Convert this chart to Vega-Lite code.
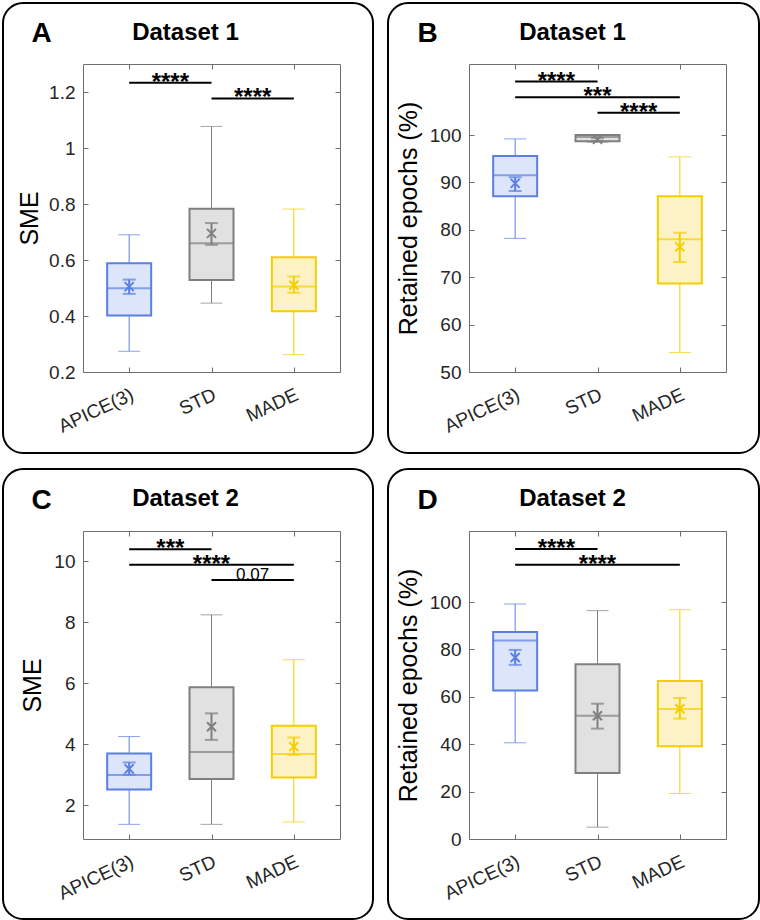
{
  "$schema": "https://vega.github.io/schema/vega-lite/v6.json",
  "padding": {"left": 1, "top": 1, "right": 0, "bottom": 0},
  "background": "white",
  "config": {
    "font": "Liberation Sans",
    "view": {"stroke": "#6e6e6e", "strokeWidth": 1},
    "legend": {"disable": true},
    "axis": {"labelFont": "Liberation Sans", "titleFont": "Liberation Sans", "labelFontSize": 19, "labelColor": "#262626", "titleFontSize": 25, "titleFontWeight": "normal", "titleColor": "#000000", "grid": false, "domain": false, "tickColor": "#6e6e6e", "tickSize": -5, "tickWidth": 1}
  },
  "datasets": {
    "boxes": [
      {"panel": "A", "group": "APICE(3)", "pos": 1, "lo": 0.274, "q1": 0.402, "med": 0.499, "q3": 0.588, "hi": 0.690, "mean": 0.505, "elo": 0.479, "ehi": 0.530},
      {"panel": "A", "group": "STD", "pos": 2, "lo": 0.446, "q1": 0.529, "med": 0.660, "q3": 0.783, "hi": 1.077, "mean": 0.695, "elo": 0.654, "ehi": 0.732},
      {"panel": "A", "group": "MADE", "pos": 3, "lo": 0.262, "q1": 0.417, "med": 0.505, "q3": 0.610, "hi": 0.782, "mean": 0.510, "elo": 0.483, "ehi": 0.541},
      {"panel": "B", "group": "APICE(3)", "pos": 1, "lo": 78.2, "q1": 87.1, "med": 91.5, "q3": 95.6, "hi": 99.2, "mean": 89.8, "elo": 88.2, "ehi": 91.1},
      {"panel": "B", "group": "STD", "pos": 2, "lo": 98.5, "q1": 98.7, "med": 99.6, "q3": 100.0, "hi": 100.0, "mean": 99.1, "elo": 98.8, "ehi": 99.4},
      {"panel": "B", "group": "MADE", "pos": 3, "lo": 54.1, "q1": 68.7, "med": 78.0, "q3": 87.1, "hi": 95.4, "mean": 76.4, "elo": 73.2, "ehi": 79.4},
      {"panel": "C", "group": "APICE(3)", "pos": 1, "lo": 1.38, "q1": 2.52, "med": 3.0, "q3": 3.70, "hi": 4.26, "mean": 3.2, "elo": 3.01, "ehi": 3.41},
      {"panel": "C", "group": "STD", "pos": 2, "lo": 1.38, "q1": 2.87, "med": 3.75, "q3": 5.88, "hi": 8.25, "mean": 4.58, "elo": 4.15, "ehi": 5.02},
      {"panel": "C", "group": "MADE", "pos": 3, "lo": 1.46, "q1": 2.92, "med": 3.69, "q3": 4.61, "hi": 6.78, "mean": 3.93, "elo": 3.66, "ehi": 4.23},
      {"panel": "D", "group": "APICE(3)", "pos": 1, "lo": 40.6, "q1": 62.7, "med": 83.8, "q3": 87.4, "hi": 99.2, "mean": 76.6, "elo": 73.5, "ehi": 79.8},
      {"panel": "D", "group": "STD", "pos": 2, "lo": 5.0, "q1": 27.9, "med": 52.0, "q3": 73.8, "hi": 96.4, "mean": 52.0, "elo": 46.6, "ehi": 57.1},
      {"panel": "D", "group": "MADE", "pos": 3, "lo": 19.2, "q1": 39.2, "med": 54.9, "q3": 66.7, "hi": 96.8, "mean": 55.0, "elo": 50.8, "ehi": 59.5}
    ],
    "sig": [
      {"panel": "A", "from": 1, "to": 2, "mid": 1.5, "y": 1.233, "label": "****"},
      {"panel": "A", "from": 2, "to": 3, "mid": 2.5, "y": 1.177, "label": "****"},
      {"panel": "B", "from": 1, "to": 2, "mid": 1.5, "y": 111.3, "label": "****"},
      {"panel": "B", "from": 1, "to": 3, "mid": 2, "y": 108.0, "label": "***"},
      {"panel": "B", "from": 2, "to": 3, "mid": 2.5, "y": 104.7, "label": "****"},
      {"panel": "C", "from": 1, "to": 2, "mid": 1.5, "y": 10.40, "label": "***"},
      {"panel": "C", "from": 1, "to": 3, "mid": 2, "y": 9.89, "label": "****"},
      {"panel": "C", "from": 2, "to": 3, "mid": 2.5, "y": 9.39, "label": "0.07"},
      {"panel": "D", "from": 1, "to": 2, "mid": 1.5, "y": 122.4, "label": "****"},
      {"panel": "D", "from": 1, "to": 3, "mid": 2, "y": 115.8, "label": "****"}
    ]
  },
  "columns": 2,
  "spacing": {"row": 159, "column": 129},
  "bounds": "flush",
  "concat": [
    {
      "width": 257, "height": 308,
      "resolve": {"axis": {"x": "independent", "y": "independent"}},
      "layer": [
        {"data": {"values": [{}]}, "mark": {"type": "rect", "filled": false, "color": "#000000", "strokeWidth": 2, "cornerRadius": 20, "clip": false},
         "encoding": {"x": {"value": -80}, "x2": {"value": 290}, "y": {"value": -61}, "y2": {"value": 389}}},
        {"data": {"name": "boxes"}, "transform": [{"filter": "datum.panel == 'A'"}],
         "mark": {"type": "rule", "strokeWidth": 1},
         "encoding": {
           "x": {"field": "pos", "type": "quantitative", "scale": {"domain": [0.5, 3.5], "nice": false, "zero": false},
                 "axis": {"orient": "bottom", "values": [1, 2, 3], "labelExpr": "datum.value == 1 ? 'APICE(3)' : datum.value == 2 ? 'STD' : 'MADE'", "labelAngle": -25, "labelAlign": "right", "labelBaseline": "top", "labelPadding": 18, "labelOffset": -1, "title": null}},
           "y": {"field": "lo", "type": "quantitative", "scale": {"domain": [0.2, 1.3], "nice": false, "zero": false},
                 "axis": {"orient": "left", "values": [0.2, 0.4, 0.6, 0.8, 1, 1.2], "format": "~f", "title": "SME", "labelPadding": 13, "titlePadding": 6}},
           "y2": {"field": "hi"},
           "color": {"field": "group", "type": "nominal", "scale": {"domain": ["APICE(3)", "STD", "MADE"], "range": ["#5b7fe3", "#7f7f7f", "#f3cf00"]}}
         }},
        {"data": {"name": "boxes"}, "transform": [{"filter": "datum.panel == 'A'"}, {"fold": ["lo", "hi"]}],
         "mark": {"type": "tick", "orient": "horizontal", "size": 22, "thickness": 1},
         "encoding": {"x": {"field": "pos", "type": "quantitative", "axis": null}, "y": {"field": "value", "type": "quantitative", "axis": null}, "color": {"field": "group", "type": "nominal"}}},
        {"data": {"name": "boxes"}, "transform": [{"filter": "datum.panel == 'A'"}],
         "mark": {"type": "bar", "size": 44, "strokeWidth": 2},
         "encoding": {"x": {"field": "pos", "type": "quantitative", "axis": null}, "y": {"field": "q1", "type": "quantitative", "axis": null}, "y2": {"field": "q3"},
           "fill": {"field": "group", "type": "nominal", "scale": {"domain": ["APICE(3)", "STD", "MADE"], "range": ["#dde5fa", "#e1e1e1", "#fdf2c6"]}},
           "stroke": {"field": "group", "type": "nominal", "scale": {"domain": ["APICE(3)", "STD", "MADE"], "range": ["#5b7fe3", "#7f7f7f", "#f3cf00"]}}}},
        {"data": {"name": "boxes"}, "transform": [{"filter": "datum.panel == 'A'"}],
         "mark": {"type": "tick", "orient": "horizontal", "size": 44, "thickness": 2},
         "encoding": {"x": {"field": "pos", "type": "quantitative", "axis": null}, "y": {"field": "med", "type": "quantitative", "axis": null}, "color": {"field": "group", "type": "nominal"}}},
        {"data": {"name": "boxes"}, "transform": [{"filter": "datum.panel == 'A'"}],
         "mark": {"type": "rule", "strokeWidth": 2},
         "encoding": {"x": {"field": "pos", "type": "quantitative", "axis": null}, "y": {"field": "elo", "type": "quantitative", "axis": null}, "y2": {"field": "ehi"}, "color": {"field": "group", "type": "nominal"}}},
        {"data": {"name": "boxes"}, "transform": [{"filter": "datum.panel == 'A'"}, {"fold": ["elo", "ehi"]}],
         "mark": {"type": "tick", "orient": "horizontal", "size": 13, "thickness": 2},
         "encoding": {"x": {"field": "pos", "type": "quantitative", "axis": null}, "y": {"field": "value", "type": "quantitative", "axis": null}, "color": {"field": "group", "type": "nominal"}}},
        {"data": {"name": "boxes"}, "transform": [{"filter": "datum.panel == 'A'"}],
         "mark": {"type": "point", "shape": "M-1,-1L1,1M-1,1L1,-1", "size": 81, "filled": false, "strokeWidth": 2, "opacity": 1},
         "encoding": {"x": {"field": "pos", "type": "quantitative", "axis": null}, "y": {"field": "mean", "type": "quantitative", "axis": null}, "color": {"field": "group", "type": "nominal"}}},
        {"data": {"name": "sig"}, "transform": [{"filter": "datum.panel == 'A'"}],
         "mark": {"type": "rule", "strokeWidth": 2, "color": "#000000"},
         "encoding": {
           "x": {"field": "from", "type": "quantitative", "axis": {"orient": "top", "values": [1, 2, 3], "labels": false, "title": "Dataset 1", "titleX": 102, "titleY": -25, "titleAlign": "center", "titleBaseline": "alphabetic", "titleAngle": 0, "titleFontSize": 24, "titleFontWeight": "bold"}},
           "x2": {"field": "to"},
           "y": {"field": "y", "type": "quantitative", "axis": {"orient": "right", "values": [0.2, 0.4, 0.6, 0.8, 1, 1.2], "labels": false, "title": "A", "titleX": -299, "titleY": -23, "titleAlign": "center", "titleBaseline": "alphabetic", "titleAngle": 0, "titleFontSize": 28, "titleFontWeight": "bold"}}
         }},
        {"data": {"name": "sig"}, "transform": [{"filter": "datum.panel == 'A' && datum.label != '0.07'"}],
         "mark": {"type": "text", "fontSize": 24, "fontWeight": "bold", "dy": 7, "baseline": "alphabetic", "align": "center", "color": "#000000"},
         "encoding": {"x": {"field": "mid", "type": "quantitative", "axis": null}, "y": {"field": "y", "type": "quantitative", "axis": null}, "text": {"field": "label"}}}
      ]
    },
    {
      "width": 257, "height": 308,
      "resolve": {"axis": {"x": "independent", "y": "independent"}},
      "layer": [
        {"data": {"values": [{}]}, "mark": {"type": "rect", "filled": false, "color": "#000000", "strokeWidth": 2, "cornerRadius": 20, "clip": false},
         "encoding": {"x": {"value": -81}, "x2": {"value": 290}, "y": {"value": -61}, "y2": {"value": 389}}},
        {"data": {"name": "boxes"}, "transform": [{"filter": "datum.panel == 'B'"}],
         "mark": {"type": "rule", "strokeWidth": 1},
         "encoding": {
           "x": {"field": "pos", "type": "quantitative", "scale": {"domain": [0.5, 3.5], "nice": false, "zero": false},
                 "axis": {"orient": "bottom", "values": [1, 2, 3], "labelExpr": "datum.value == 1 ? 'APICE(3)' : datum.value == 2 ? 'STD' : 'MADE'", "labelAngle": -25, "labelAlign": "right", "labelBaseline": "top", "labelPadding": 18, "labelOffset": -1, "title": null}},
           "y": {"field": "lo", "type": "quantitative", "scale": {"domain": [50, 115], "nice": false, "zero": false},
                 "axis": {"orient": "left", "values": [50, 60, 70, 80, 90, 100], "format": "~f", "title": "Retained epochs (%)", "labelPadding": 13, "titlePadding": 8}},
           "y2": {"field": "hi"},
           "color": {"field": "group", "type": "nominal", "scale": {"domain": ["APICE(3)", "STD", "MADE"], "range": ["#5b7fe3", "#7f7f7f", "#f3cf00"]}}
         }},
        {"data": {"name": "boxes"}, "transform": [{"filter": "datum.panel == 'B'"}, {"fold": ["lo", "hi"]}],
         "mark": {"type": "tick", "orient": "horizontal", "size": 22, "thickness": 1},
         "encoding": {"x": {"field": "pos", "type": "quantitative", "axis": null}, "y": {"field": "value", "type": "quantitative", "axis": null}, "color": {"field": "group", "type": "nominal"}}},
        {"data": {"name": "boxes"}, "transform": [{"filter": "datum.panel == 'B'"}],
         "mark": {"type": "bar", "size": 44, "strokeWidth": 2},
         "encoding": {"x": {"field": "pos", "type": "quantitative", "axis": null}, "y": {"field": "q1", "type": "quantitative", "axis": null}, "y2": {"field": "q3"},
           "fill": {"field": "group", "type": "nominal", "scale": {"domain": ["APICE(3)", "STD", "MADE"], "range": ["#dde5fa", "#e1e1e1", "#fdf2c6"]}},
           "stroke": {"field": "group", "type": "nominal", "scale": {"domain": ["APICE(3)", "STD", "MADE"], "range": ["#5b7fe3", "#7f7f7f", "#f3cf00"]}}}},
        {"data": {"name": "boxes"}, "transform": [{"filter": "datum.panel == 'B'"}],
         "mark": {"type": "tick", "orient": "horizontal", "size": 44, "thickness": 2},
         "encoding": {"x": {"field": "pos", "type": "quantitative", "axis": null}, "y": {"field": "med", "type": "quantitative", "axis": null}, "color": {"field": "group", "type": "nominal"}}},
        {"data": {"name": "boxes"}, "transform": [{"filter": "datum.panel == 'B'"}],
         "mark": {"type": "rule", "strokeWidth": 2},
         "encoding": {"x": {"field": "pos", "type": "quantitative", "axis": null}, "y": {"field": "elo", "type": "quantitative", "axis": null}, "y2": {"field": "ehi"}, "color": {"field": "group", "type": "nominal"}}},
        {"data": {"name": "boxes"}, "transform": [{"filter": "datum.panel == 'B'"}, {"fold": ["elo", "ehi"]}],
         "mark": {"type": "tick", "orient": "horizontal", "size": 13, "thickness": 2},
         "encoding": {"x": {"field": "pos", "type": "quantitative", "axis": null}, "y": {"field": "value", "type": "quantitative", "axis": null}, "color": {"field": "group", "type": "nominal"}}},
        {"data": {"name": "boxes"}, "transform": [{"filter": "datum.panel == 'B'"}],
         "mark": {"type": "point", "shape": "M-1,-1L1,1M-1,1L1,-1", "size": 81, "filled": false, "strokeWidth": 2, "opacity": 1},
         "encoding": {"x": {"field": "pos", "type": "quantitative", "axis": null}, "y": {"field": "mean", "type": "quantitative", "axis": null}, "color": {"field": "group", "type": "nominal"}}},
        {"data": {"name": "sig"}, "transform": [{"filter": "datum.panel == 'B'"}],
         "mark": {"type": "rule", "strokeWidth": 2, "color": "#000000"},
         "encoding": {
           "x": {"field": "from", "type": "quantitative", "axis": {"orient": "top", "values": [1, 2, 3], "labels": false, "title": "Dataset 1", "titleX": 103, "titleY": -25, "titleAlign": "center", "titleBaseline": "alphabetic", "titleAngle": 0, "titleFontSize": 24, "titleFontWeight": "bold"}},
           "x2": {"field": "to"},
           "y": {"field": "y", "type": "quantitative", "axis": {"orient": "right", "values": [50, 60, 70, 80, 90, 100], "labels": false, "title": "B", "titleX": -299, "titleY": -23, "titleAlign": "center", "titleBaseline": "alphabetic", "titleAngle": 0, "titleFontSize": 28, "titleFontWeight": "bold"}}
         }},
        {"data": {"name": "sig"}, "transform": [{"filter": "datum.panel == 'B' && datum.label != '0.07'"}],
         "mark": {"type": "text", "fontSize": 24, "fontWeight": "bold", "dy": 7, "baseline": "alphabetic", "align": "center", "color": "#000000"},
         "encoding": {"x": {"field": "mid", "type": "quantitative", "axis": null}, "y": {"field": "y", "type": "quantitative", "axis": null}, "text": {"field": "label"}}}
      ]
    },
    {
      "width": 257, "height": 308,
      "resolve": {"axis": {"x": "independent", "y": "independent"}},
      "layer": [
        {"data": {"values": [{}]}, "mark": {"type": "rect", "filled": false, "color": "#000000", "strokeWidth": 2, "cornerRadius": 20, "clip": false},
         "encoding": {"x": {"value": -80}, "x2": {"value": 290}, "y": {"value": -62}, "y2": {"value": 388}}},
        {"data": {"name": "boxes"}, "transform": [{"filter": "datum.panel == 'C'"}],
         "mark": {"type": "rule", "strokeWidth": 1},
         "encoding": {
           "x": {"field": "pos", "type": "quantitative", "scale": {"domain": [0.5, 3.5], "nice": false, "zero": false},
                 "axis": {"orient": "bottom", "values": [1, 2, 3], "labelExpr": "datum.value == 1 ? 'APICE(3)' : datum.value == 2 ? 'STD' : 'MADE'", "labelAngle": -25, "labelAlign": "right", "labelBaseline": "top", "labelPadding": 18, "labelOffset": -1, "title": null}},
           "y": {"field": "lo", "type": "quantitative", "scale": {"domain": [0.9, 11], "nice": false, "zero": false},
                 "axis": {"orient": "left", "values": [2, 4, 6, 8, 10], "format": "~f", "title": "SME", "labelPadding": 13, "titlePadding": 8}},
           "y2": {"field": "hi"},
           "color": {"field": "group", "type": "nominal", "scale": {"domain": ["APICE(3)", "STD", "MADE"], "range": ["#5b7fe3", "#7f7f7f", "#f3cf00"]}}
         }},
        {"data": {"name": "boxes"}, "transform": [{"filter": "datum.panel == 'C'"}, {"fold": ["lo", "hi"]}],
         "mark": {"type": "tick", "orient": "horizontal", "size": 22, "thickness": 1},
         "encoding": {"x": {"field": "pos", "type": "quantitative", "axis": null}, "y": {"field": "value", "type": "quantitative", "axis": null}, "color": {"field": "group", "type": "nominal"}}},
        {"data": {"name": "boxes"}, "transform": [{"filter": "datum.panel == 'C'"}],
         "mark": {"type": "bar", "size": 44, "strokeWidth": 2},
         "encoding": {"x": {"field": "pos", "type": "quantitative", "axis": null}, "y": {"field": "q1", "type": "quantitative", "axis": null}, "y2": {"field": "q3"},
           "fill": {"field": "group", "type": "nominal", "scale": {"domain": ["APICE(3)", "STD", "MADE"], "range": ["#dde5fa", "#e1e1e1", "#fdf2c6"]}},
           "stroke": {"field": "group", "type": "nominal", "scale": {"domain": ["APICE(3)", "STD", "MADE"], "range": ["#5b7fe3", "#7f7f7f", "#f3cf00"]}}}},
        {"data": {"name": "boxes"}, "transform": [{"filter": "datum.panel == 'C'"}],
         "mark": {"type": "tick", "orient": "horizontal", "size": 44, "thickness": 2},
         "encoding": {"x": {"field": "pos", "type": "quantitative", "axis": null}, "y": {"field": "med", "type": "quantitative", "axis": null}, "color": {"field": "group", "type": "nominal"}}},
        {"data": {"name": "boxes"}, "transform": [{"filter": "datum.panel == 'C'"}],
         "mark": {"type": "rule", "strokeWidth": 2},
         "encoding": {"x": {"field": "pos", "type": "quantitative", "axis": null}, "y": {"field": "elo", "type": "quantitative", "axis": null}, "y2": {"field": "ehi"}, "color": {"field": "group", "type": "nominal"}}},
        {"data": {"name": "boxes"}, "transform": [{"filter": "datum.panel == 'C'"}, {"fold": ["elo", "ehi"]}],
         "mark": {"type": "tick", "orient": "horizontal", "size": 13, "thickness": 2},
         "encoding": {"x": {"field": "pos", "type": "quantitative", "axis": null}, "y": {"field": "value", "type": "quantitative", "axis": null}, "color": {"field": "group", "type": "nominal"}}},
        {"data": {"name": "boxes"}, "transform": [{"filter": "datum.panel == 'C'"}],
         "mark": {"type": "point", "shape": "M-1,-1L1,1M-1,1L1,-1", "size": 81, "filled": false, "strokeWidth": 2, "opacity": 1},
         "encoding": {"x": {"field": "pos", "type": "quantitative", "axis": null}, "y": {"field": "mean", "type": "quantitative", "axis": null}, "color": {"field": "group", "type": "nominal"}}},
        {"data": {"name": "sig"}, "transform": [{"filter": "datum.panel == 'C'"}],
         "mark": {"type": "rule", "strokeWidth": 2, "color": "#000000"},
         "encoding": {
           "x": {"field": "from", "type": "quantitative", "axis": {"orient": "top", "values": [1, 2, 3], "labels": false, "title": "Dataset 2", "titleX": 102, "titleY": -26, "titleAlign": "center", "titleBaseline": "alphabetic", "titleAngle": 0, "titleFontSize": 24, "titleFontWeight": "bold"}},
           "x2": {"field": "to"},
           "y": {"field": "y", "type": "quantitative", "axis": {"orient": "right", "values": [2, 4, 6, 8, 10], "labels": false, "title": "C", "titleX": -299, "titleY": -23, "titleAlign": "center", "titleBaseline": "alphabetic", "titleAngle": 0, "titleFontSize": 28, "titleFontWeight": "bold"}}
         }},
        {"data": {"name": "sig"}, "transform": [{"filter": "datum.panel == 'C' && datum.label != '0.07'"}],
         "mark": {"type": "text", "fontSize": 24, "fontWeight": "bold", "dy": 7, "baseline": "alphabetic", "align": "center", "color": "#000000"},
         "encoding": {"x": {"field": "mid", "type": "quantitative", "axis": null}, "y": {"field": "y", "type": "quantitative", "axis": null}, "text": {"field": "label"}}},
        {"data": {"name": "sig"}, "transform": [{"filter": "datum.panel == 'C' && datum.label == '0.07'"}],
         "mark": {"type": "text", "fontSize": 17, "dy": 0, "baseline": "alphabetic", "align": "center", "color": "#000000"},
         "encoding": {"x": {"field": "mid", "type": "quantitative", "axis": null}, "y": {"field": "y", "type": "quantitative", "axis": null}, "text": {"field": "label"}}}
      ]
    },
    {
      "width": 257, "height": 308,
      "resolve": {"axis": {"x": "independent", "y": "independent"}},
      "layer": [
        {"data": {"values": [{}]}, "mark": {"type": "rect", "filled": false, "color": "#000000", "strokeWidth": 2, "cornerRadius": 20, "clip": false},
         "encoding": {"x": {"value": -81}, "x2": {"value": 290}, "y": {"value": -62}, "y2": {"value": 388}}},
        {"data": {"name": "boxes"}, "transform": [{"filter": "datum.panel == 'D'"}],
         "mark": {"type": "rule", "strokeWidth": 1},
         "encoding": {
           "x": {"field": "pos", "type": "quantitative", "scale": {"domain": [0.5, 3.5], "nice": false, "zero": false},
                 "axis": {"orient": "bottom", "values": [1, 2, 3], "labelExpr": "datum.value == 1 ? 'APICE(3)' : datum.value == 2 ? 'STD' : 'MADE'", "labelAngle": -25, "labelAlign": "right", "labelBaseline": "top", "labelPadding": 18, "labelOffset": -1, "title": null}},
           "y": {"field": "lo", "type": "quantitative", "scale": {"domain": [0, 130], "nice": false, "zero": false},
                 "axis": {"orient": "left", "values": [0, 20, 40, 60, 80, 100], "format": "~f", "title": "Retained epochs (%)", "labelPadding": 13, "titlePadding": 8}},
           "y2": {"field": "hi"},
           "color": {"field": "group", "type": "nominal", "scale": {"domain": ["APICE(3)", "STD", "MADE"], "range": ["#5b7fe3", "#7f7f7f", "#f3cf00"]}}
         }},
        {"data": {"name": "boxes"}, "transform": [{"filter": "datum.panel == 'D'"}, {"fold": ["lo", "hi"]}],
         "mark": {"type": "tick", "orient": "horizontal", "size": 22, "thickness": 1},
         "encoding": {"x": {"field": "pos", "type": "quantitative", "axis": null}, "y": {"field": "value", "type": "quantitative", "axis": null}, "color": {"field": "group", "type": "nominal"}}},
        {"data": {"name": "boxes"}, "transform": [{"filter": "datum.panel == 'D'"}],
         "mark": {"type": "bar", "size": 44, "strokeWidth": 2},
         "encoding": {"x": {"field": "pos", "type": "quantitative", "axis": null}, "y": {"field": "q1", "type": "quantitative", "axis": null}, "y2": {"field": "q3"},
           "fill": {"field": "group", "type": "nominal", "scale": {"domain": ["APICE(3)", "STD", "MADE"], "range": ["#dde5fa", "#e1e1e1", "#fdf2c6"]}},
           "stroke": {"field": "group", "type": "nominal", "scale": {"domain": ["APICE(3)", "STD", "MADE"], "range": ["#5b7fe3", "#7f7f7f", "#f3cf00"]}}}},
        {"data": {"name": "boxes"}, "transform": [{"filter": "datum.panel == 'D'"}],
         "mark": {"type": "tick", "orient": "horizontal", "size": 44, "thickness": 2},
         "encoding": {"x": {"field": "pos", "type": "quantitative", "axis": null}, "y": {"field": "med", "type": "quantitative", "axis": null}, "color": {"field": "group", "type": "nominal"}}},
        {"data": {"name": "boxes"}, "transform": [{"filter": "datum.panel == 'D'"}],
         "mark": {"type": "rule", "strokeWidth": 2},
         "encoding": {"x": {"field": "pos", "type": "quantitative", "axis": null}, "y": {"field": "elo", "type": "quantitative", "axis": null}, "y2": {"field": "ehi"}, "color": {"field": "group", "type": "nominal"}}},
        {"data": {"name": "boxes"}, "transform": [{"filter": "datum.panel == 'D'"}, {"fold": ["elo", "ehi"]}],
         "mark": {"type": "tick", "orient": "horizontal", "size": 13, "thickness": 2},
         "encoding": {"x": {"field": "pos", "type": "quantitative", "axis": null}, "y": {"field": "value", "type": "quantitative", "axis": null}, "color": {"field": "group", "type": "nominal"}}},
        {"data": {"name": "boxes"}, "transform": [{"filter": "datum.panel == 'D'"}],
         "mark": {"type": "point", "shape": "M-1,-1L1,1M-1,1L1,-1", "size": 81, "filled": false, "strokeWidth": 2, "opacity": 1},
         "encoding": {"x": {"field": "pos", "type": "quantitative", "axis": null}, "y": {"field": "mean", "type": "quantitative", "axis": null}, "color": {"field": "group", "type": "nominal"}}},
        {"data": {"name": "sig"}, "transform": [{"filter": "datum.panel == 'D'"}],
         "mark": {"type": "rule", "strokeWidth": 2, "color": "#000000"},
         "encoding": {
           "x": {"field": "from", "type": "quantitative", "axis": {"orient": "top", "values": [1, 2, 3], "labels": false, "title": "Dataset 2", "titleX": 103, "titleY": -26, "titleAlign": "center", "titleBaseline": "alphabetic", "titleAngle": 0, "titleFontSize": 24, "titleFontWeight": "bold"}},
           "x2": {"field": "to"},
           "y": {"field": "y", "type": "quantitative", "axis": {"orient": "right", "values": [0, 20, 40, 60, 80, 100], "labels": false, "title": "D", "titleX": -299, "titleY": -23, "titleAlign": "center", "titleBaseline": "alphabetic", "titleAngle": 0, "titleFontSize": 28, "titleFontWeight": "bold"}}
         }},
        {"data": {"name": "sig"}, "transform": [{"filter": "datum.panel == 'D' && datum.label != '0.07'"}],
         "mark": {"type": "text", "fontSize": 24, "fontWeight": "bold", "dy": 7, "baseline": "alphabetic", "align": "center", "color": "#000000"},
         "encoding": {"x": {"field": "mid", "type": "quantitative", "axis": null}, "y": {"field": "y", "type": "quantitative", "axis": null}, "text": {"field": "label"}}}
      ]
    }
  ]
}
